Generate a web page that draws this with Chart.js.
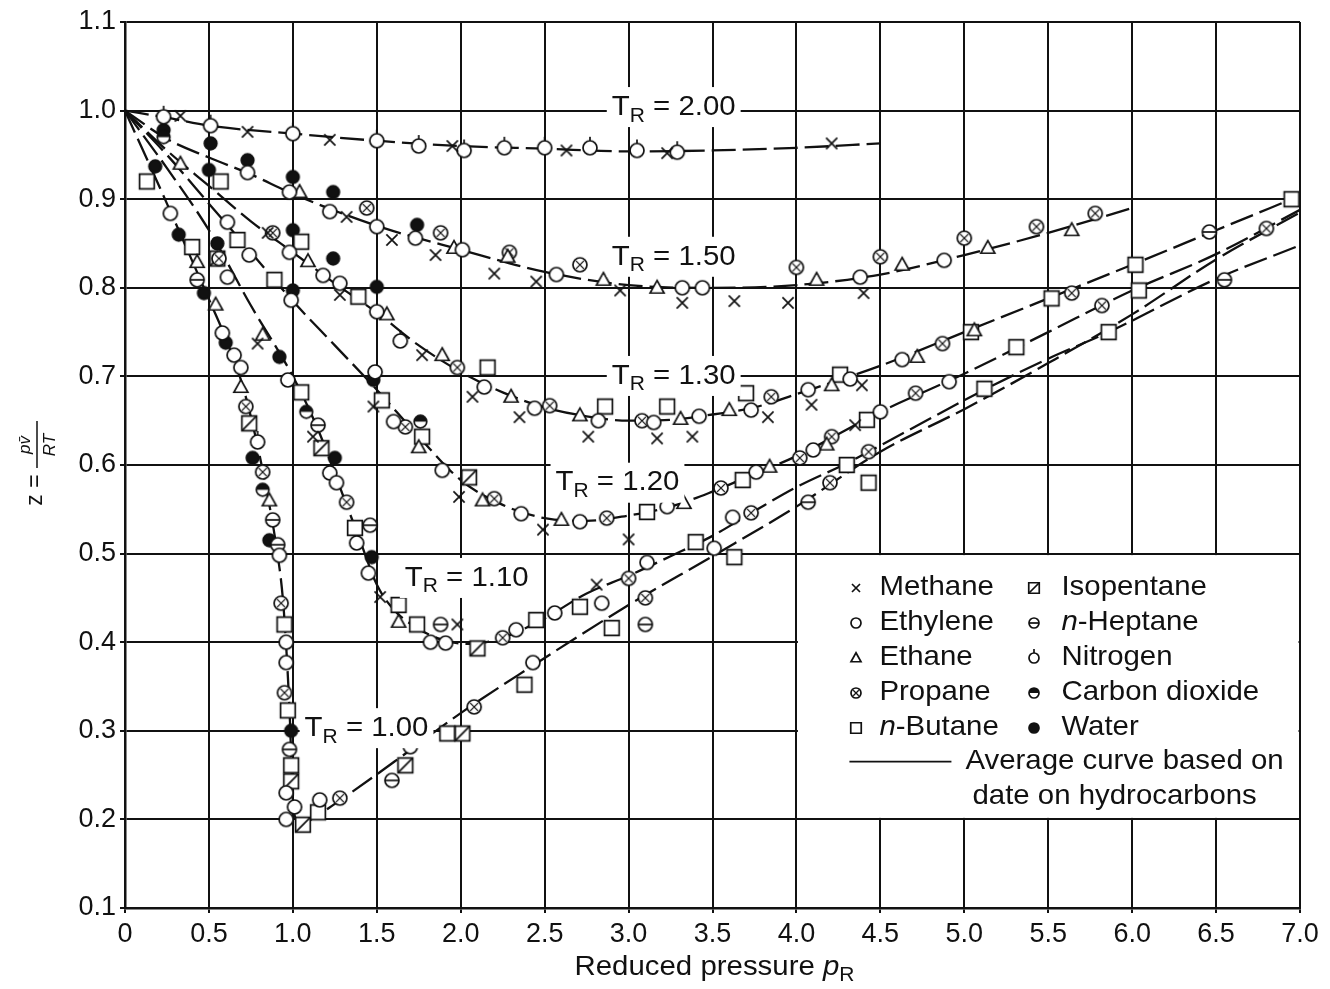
<!DOCTYPE html>
<html lang="en">
<head>
<meta charset="UTF-8">
<title>Generalized compressibility chart</title>
<script src="https://cdn.jsdelivr.net/npm/chart.js@4.4.0/dist/chart.umd.min.js"></script>
<style>
  body { margin: 0; background: #fff; }
  #wrap { width: 1330px; height: 989px; }
</style>
</head>
<body>
<div id="wrap"><canvas id="zChart" width="1330" height="989"></canvas></div>
<script>
// ---- data (x = reduced pressure, y = z) ----
const xTickLabels = ['0','0.5','1.0','1.5','2.0','2.5','3.0','3.5','4.0','4.5','5.0','5.5','6.0','6.5','7.0'];
const yTickLabels = ['0.1','0.2','0.3','0.4','0.5','0.6','0.7','0.8','0.9','1.0','1.1'];

// average curves, one per reduced temperature
const trLabels = ['1.00', '1.10', '1.20', '1.30', '1.50', '2.00'];
const tr100 = [[0,1.0],[0.25,0.895],[0.5,0.787],[0.6,0.743],[0.7,0.69],[0.78,0.63],[0.85,0.565],[0.9,0.51],[0.94,0.45],[0.965,0.38],[0.985,0.3],[0.995,0.24],[1.01,0.205],[1.05,0.195],[1.15,0.205],[1.3,0.224],[1.64,0.27],[2.0,0.32],[2.4,0.37],[3.0,0.442],[3.5,0.497],[4.0,0.553],[4.5,0.615],[5.0,0.663],[5.5,0.715],[6.0,0.77],[6.5,0.832],[7.0,0.885]];
const tr110 = [[0,1.0],[0.25,0.935],[0.5,0.865],[0.75,0.78],[1.0,0.70],[1.15,0.64],[1.3,0.565],[1.4,0.515],[1.5,0.465],[1.6,0.437],[1.75,0.415],[1.9,0.402],[2.05,0.398],[2.25,0.405],[2.5,0.427],[2.75,0.455],[3.0,0.475],[3.25,0.497],[3.5,0.52],[3.75,0.548],[4.0,0.575],[4.3,0.602],[4.5,0.622],[5.12,0.685],[5.5,0.72],[5.86,0.75],[6.5,0.81],[7.0,0.848]];
const tr120 = [[0,1.0],[0.25,0.95],[0.5,0.895],[0.75,0.84],[1.0,0.785],[1.25,0.735],[1.5,0.685],[1.75,0.632],[2.0,0.583],[2.25,0.555],[2.5,0.54],[2.75,0.537],[3.0,0.543],[3.25,0.553],[3.5,0.57],[3.75,0.59],[4.0,0.61],[4.5,0.66],[5.0,0.703],[5.5,0.75],[6.0,0.797],[6.5,0.838],[7.0,0.888]];
const tr130 = [[0,1.0],[0.25,0.955],[0.5,0.915],[0.75,0.875],[1.0,0.84],[1.25,0.805],[1.5,0.772],[1.75,0.735],[2.0,0.705],[2.25,0.682],[2.5,0.665],[2.75,0.655],[3.0,0.65],[3.25,0.651],[3.5,0.657],[3.75,0.665],[4.0,0.68],[4.5,0.712],[5.0,0.75],[5.5,0.788],[6.0,0.826],[6.5,0.865],[6.95,0.9]];
const tr150 = [[0,1.0],[0.25,0.968],[0.5,0.947],[0.75,0.928],[1.0,0.906],[1.5,0.87],[2.0,0.843],[2.5,0.818],[3.0,0.803],[3.5,0.80],[4.0,0.803],[4.5,0.815],[5.0,0.837],[5.5,0.862],[6.0,0.89]];
const tr200 = [[0,1.0],[0.25,0.992],[0.5,0.983],[1.0,0.974],[1.5,0.966],[2.0,0.96],[2.5,0.957],[3.0,0.954],[3.5,0.955],[4.0,0.958],[4.5,0.963]];
const trCurves = [tr100, tr110, tr120, tr130, tr150, tr200];

// measured points per substance
const methane = [[0.33,0.994],[0.73,0.976],[1.22,0.967],[1.95,0.96],[2.63,0.955],[3.23,0.952],[4.21,0.963],
  [1.32,0.88],[1.59,0.854],[1.85,0.837],[2.2,0.816],[2.45,0.807],[2.95,0.797],[3.32,0.783],[3.63,0.785],[3.95,0.783],[4.4,0.794],
  [0.85,0.862],[1.28,0.792],[1.77,0.724],[2.07,0.677],[2.35,0.654],[2.76,0.632],[3.17,0.63],[3.38,0.632],[3.83,0.654],[4.09,0.668],[4.39,0.69],
  [1.48,0.666],[1.99,0.564],[2.49,0.527],[3.0,0.516],[4.35,0.645],
  [0.79,0.737],[1.12,0.632],[1.52,0.451],[1.98,0.42],[2.81,0.465]];
const ethylene = [[0.73,0.93],[0.98,0.908],[1.22,0.886],[1.5,0.869],[1.73,0.856],[2.01,0.843],[2.57,0.815],[3.32,0.8],[3.44,0.8],[4.38,0.812],[4.88,0.831],
  [0.61,0.874],[0.98,0.84],[1.18,0.814],[1.28,0.805],[1.5,0.773],[2.14,0.688],[2.44,0.664],[2.82,0.65],[3.15,0.648],[3.42,0.655],[3.73,0.662],[4.07,0.685],[4.32,0.697],[4.63,0.719],
  [0.74,0.837],[0.99,0.786],[1.49,0.705],[1.6,0.649],[1.89,0.594],[2.36,0.545],[2.71,0.536],[3.23,0.553],[3.76,0.592],[4.1,0.617],[4.5,0.66],[4.91,0.694],
  [0.61,0.812],[0.97,0.696],[1.22,0.591],[1.26,0.58],[1.38,0.512],[1.45,0.478],[1.82,0.4],[1.91,0.399],[2.33,0.414],[2.56,0.433],[2.84,0.444],[3.11,0.49],[3.51,0.506],[3.62,0.541],
  [0.27,0.884],[0.58,0.749],[0.65,0.724],[0.69,0.71],[0.92,0.498],[0.96,0.4],[0.96,0.377],[0.96,0.23],[1.01,0.214],[0.96,0.2],[1.16,0.222],[1.7,0.282],[2.43,0.377]];
const ethane = [[0.33,0.94],[1.04,0.908],[1.96,0.845],[2.28,0.835],[2.85,0.809],[3.17,0.8],[4.12,0.809],[4.63,0.826],[5.14,0.845],[5.64,0.865],
  [1.09,0.83],[1.56,0.77],[1.89,0.724],[2.3,0.677],[2.71,0.656],[3.31,0.652],[3.6,0.662],[4.21,0.69],[4.72,0.722],[5.06,0.752],
  [1.75,0.62],[2.13,0.56],[2.6,0.538],[3.33,0.557],[3.84,0.598],[4.18,0.623],
  [0.82,0.747],[1.63,0.423],
  [0.43,0.829],[0.54,0.781],[0.69,0.688],[0.86,0.56]];
const propane = [[1.44,0.89],[1.88,0.862],[2.29,0.84],[2.71,0.826],[4.0,0.823],[4.5,0.835],[5.0,0.856],[5.43,0.869],[5.78,0.884],
  [0.88,0.862],[1.98,0.71],[2.53,0.667],[3.08,0.65],[3.85,0.677],[4.87,0.737],[5.64,0.794],
  [1.67,0.643],[2.2,0.562],[2.87,0.54],[3.55,0.574],[4.02,0.608],[4.21,0.632],[4.71,0.681],[5.82,0.78],[6.8,0.867],
  [0.56,0.833],[1.32,0.558],[2.25,0.405],[3.0,0.472],[3.73,0.546],[4.43,0.615],
  [0.72,0.666],[0.82,0.592],[0.93,0.444],[0.95,0.343],[1.28,0.224],[2.08,0.327],[3.1,0.45],[4.2,0.58]];
const nButane = [[0.13,0.92],[0.57,0.92],
  [1.05,0.852],[1.39,0.79],[2.16,0.71],[2.86,0.666],[3.23,0.666],[3.7,0.681],[4.26,0.702],[5.04,0.75],[5.52,0.788],[6.02,0.826],[6.95,0.9],
  [0.89,0.809],[1.53,0.673],[1.77,0.632],[3.11,0.547],[3.68,0.583],[4.42,0.651],[5.31,0.733],[6.04,0.797],
  [0.67,0.854],[1.05,0.682],[1.37,0.529],[1.63,0.442],[1.74,0.42],[2.45,0.425],[2.71,0.44],[3.4,0.513],[4.3,0.6],[5.12,0.686],[5.86,0.75],
  [0.4,0.846],[0.95,0.42],[0.97,0.323],[0.99,0.261],[1.15,0.208],[1.92,0.297],[2.38,0.352],[2.9,0.416],[3.63,0.496],[4.43,0.58]];
const isopentane = [[0.55,0.833],[0.74,0.647],[1.17,0.619],[2.05,0.586],[0.99,0.243],[1.06,0.194],[1.67,0.261],[2.01,0.297],[2.1,0.393]];
const nHeptane = [[0.43,0.809],[0.88,0.538],[0.91,0.51],[0.98,0.279],[1.15,0.645],[1.46,0.532],[1.59,0.244],[1.88,0.42],[3.1,0.42],[4.07,0.558],[6.46,0.863],[6.55,0.809]];
const nitrogen = [[0.23,0.993],[0.51,0.983],[1.0,0.974],[1.5,0.966],[1.75,0.96],[2.02,0.955],[2.26,0.958],[2.5,0.958],[2.77,0.958],[3.05,0.955],[3.29,0.953],[1.64,0.74],[0.79,0.626]];
const carbonDioxide = [[0.23,0.97],[0.82,0.572],[1.08,0.66],[1.76,0.649]];
const water = [[0.23,0.978],[0.18,0.937],[0.51,0.963],[0.73,0.944],[1.0,0.925],[1.24,0.908],[1.74,0.871],
  [0.5,0.933],[1.0,0.865],[1.24,0.833],[1.5,0.801],[0.55,0.85],[1.0,0.797],[1.48,0.696],
  [0.92,0.722],[1.25,0.608],[1.47,0.496],[0.32,0.86],[0.47,0.794],[0.6,0.738],[0.76,0.608],[0.86,0.515],[0.99,0.3]];

const substances = ['Methane', 'Ethylene', 'Ethane', 'Propane', 'n-Butane', 'Isopentane', 'n-Heptane', 'Nitrogen', 'Carbon dioxide', 'Water'];
const substanceData = [methane, ethylene, ethane, propane, nButane, isopentane, nHeptane, nitrogen, carbonDioxide, water];
const markerKinds = ['cross', 'circle', 'triangle', 'otimes', 'square', 'squareSlash', 'ominus', 'nitrogen', 'halfFill', 'filled'];

// where the "T_R = ..." tags sit (left edge, vertical centre) in data units
const trLabelAt = [[1.07,0.303],[1.667,0.4725],[2.565,0.58],[2.9,0.7005],[2.9,0.835],[2.9,1.004]];

// ---- drawing ----
const FONT = '"Liberation Sans", Arial, Helvetica, sans-serif';
const INK = '#111';
const STRETCH = 1.05;   // the printed type is a little wider than Liberation Sans

function makeMarker(kind, r) {
  const size = Math.ceil(r * 2 + 12);
  const c = document.createElement('canvas');
  c.width = c.height = size;
  const g = c.getContext('2d');
  const m = size / 2;
  g.strokeStyle = INK;
  g.lineWidth = 1.7;
  const circle = (fill) => {
    g.beginPath(); g.arc(m, m, r, 0, Math.PI * 2);
    g.fillStyle = fill; g.fill(); g.stroke();
  };
  if (kind === 'cross') {
    const s = r * 0.8;
    g.beginPath();
    g.moveTo(m - s, m - s); g.lineTo(m + s, m + s);
    g.moveTo(m + s, m - s); g.lineTo(m - s, m + s);
    g.stroke();
  } else if (kind === 'circle') {
    circle('#fff');
  } else if (kind === 'triangle') {
    g.beginPath();
    g.moveTo(m, m - r * 1.05); g.lineTo(m + r, m + r * 0.75); g.lineTo(m - r, m + r * 0.75);
    g.closePath(); g.fillStyle = '#fff'; g.fill(); g.stroke();
  } else if (kind === 'otimes') {
    circle('#fff');
    const s = r * 0.55;
    g.lineWidth = 1.3;
    g.beginPath();
    g.moveTo(m - s, m - s); g.lineTo(m + s, m + s);
    g.moveTo(m + s, m - s); g.lineTo(m - s, m + s);
    g.stroke();
  } else if (kind === 'square' || kind === 'squareSlash') {
    const h = r * 1.05;
    g.beginPath(); g.rect(m - h, m - h, 2 * h, 2 * h);
    g.fillStyle = '#fff'; g.fill(); g.stroke();
    if (kind === 'squareSlash') {
      g.beginPath(); g.moveTo(m - h, m + h); g.lineTo(m + h, m - h); g.stroke();
    }
  } else if (kind === 'ominus') {
    circle('#fff');
    g.beginPath(); g.moveTo(m - r, m); g.lineTo(m + r, m); g.stroke();
  } else if (kind === 'nitrogen') {
    circle('#fff');
    g.beginPath(); g.moveTo(m, m - r); g.lineTo(m, m - r - 4); g.stroke();
  } else if (kind === 'halfFill') {
    circle('#fff');
    g.beginPath(); g.arc(m, m, r, Math.PI, Math.PI * 2); g.closePath();
    g.fillStyle = INK; g.fill();
  } else if (kind === 'filled') {
    circle(INK);
  }
  return c;
}

// draw text slightly widened, return the advance
function wideText(ctx, text, x, y, font) {
  ctx.font = font;
  const w = ctx.measureText(text).width * STRETCH;
  ctx.save();
  ctx.translate(x, y);
  ctx.scale(STRETCH, 1);
  ctx.fillText(text, 0, 0);
  ctx.restore();
  return w;
}
function textWidth(ctx, text, font) {
  ctx.font = font;
  return ctx.measureText(text).width * STRETCH;
}

function drawTR(ctx, x, y, val) {
  const big = '28px ' + FONT, small = '20px ' + FONT;
  const rest = ' = ' + val;
  const w = textWidth(ctx, 'T', big) + textWidth(ctx, 'R', small) + textWidth(ctx, rest, big);
  ctx.save();
  ctx.textBaseline = 'middle';
  ctx.textAlign = 'left';
  ctx.fillStyle = '#fff';
  ctx.fillRect(x - 5, y - 20, w + 10, 40);
  ctx.fillStyle = INK;
  let cx = x;
  cx += wideText(ctx, 'T', cx, y, big);
  cx += wideText(ctx, 'R', cx, y + 9, small);
  wideText(ctx, rest, cx, y, big);
  ctx.restore();
}

// text with a leading italic "n" for n-Butane / n-Heptane
function drawName(ctx, name, x, y) {
  if (name.startsWith('n-')) {
    const w = wideText(ctx, 'n', x, y, 'italic 28px ' + FONT);
    wideText(ctx, name.slice(1), x + w, y, '28px ' + FONT);
  } else {
    wideText(ctx, name, x, y, '28px ' + FONT);
  }
}

const decor = {
  id: 'decor',
  beforeDatasetsDraw(chart) {
    // blank panel that holds the key
    const { ctx, scales: { x, y } } = chart;
    const l = x.getPixelForValue(4), r = x.getPixelForValue(7);
    const t = y.getPixelForValue(0.5), b = y.getPixelForValue(0.2);
    ctx.save();
    ctx.fillStyle = '#fff';
    ctx.fillRect(l + 1.5, t + 1.5, r - l - 3, b - t - 3);
    ctx.restore();
  },
  afterDatasetsDraw(chart) {
    const { ctx, scales: { x, y } } = chart;
    trLabels.forEach((lab, i) => {
      drawTR(ctx, x.getPixelForValue(trLabelAt[i][0]), y.getPixelForValue(trLabelAt[i][1]), lab);
    });
  },
  afterDraw(chart) {
    const { ctx, scales: { x, y } } = chart;
    const l = x.getPixelForValue(4), t = y.getPixelForValue(0.5);
    ctx.save();
    ctx.fillStyle = INK;
    ctx.textBaseline = 'middle';
    ctx.textAlign = 'left';
    substances.forEach((name, i) => {
      const col = Math.floor(i / 5), row = i % 5;
      const mx = l + (col ? 238 : 60), ty = t + 34 + row * 35;
      const img = makeMarker(markerKinds[i], 5);
      ctx.drawImage(img, Math.round(mx - img.width / 2), Math.round(ty - img.height / 2));
      drawName(ctx, name, l + (col ? 265 : 83), ty);
    });
    ctx.strokeStyle = INK;
    ctx.lineWidth = 1.6;
    ctx.beginPath();
    ctx.moveTo(l + 53, t + 208); ctx.lineTo(l + 155, t + 208);
    ctx.stroke();
    wideText(ctx, 'Average curve based on', l + 169, t + 208, '28px ' + FONT);
    wideText(ctx, 'date on hydrocarbons', l + 176, t + 243, '28px ' + FONT);

    // x axis title
    const cx = (x.left + x.right) / 2 + 2;
    const s1 = 'Reduced pressure ';
    const w1 = textWidth(ctx, s1, '28px ' + FONT);
    const w2 = textWidth(ctx, 'p', 'italic 28px ' + FONT);
    const w3 = textWidth(ctx, 'R', '20px ' + FONT);
    const sx = cx - (w1 + w2 + w3) / 2;
    const ty = 967;
    wideText(ctx, s1, sx, ty, '28px ' + FONT);
    wideText(ctx, 'p', sx + w1, ty, 'italic 28px ' + FONT);
    wideText(ctx, 'R', sx + w1 + w2, ty + 8, '20px ' + FONT);

    // y axis title: z = p v / RT, rotated
    ctx.translate(37, 470);
    ctx.rotate(-Math.PI / 2);
    ctx.textAlign = 'center';
    ctx.font = '23px ' + FONT;
    ctx.fillText('z =', -20, -1);
    ctx.beginPath();
    ctx.moveTo(2, 0); ctx.lineTo(49, 0);
    ctx.lineWidth = 1.5;
    ctx.stroke();
    ctx.font = 'italic 17px ' + FONT;
    ctx.fillText('pv\u0304', 25, -12);
    ctx.fillText('RT', 25, 13);
    ctx.restore();
  }
};

const markerSets = substances.map((name, i) => ({
  label: name,
  data: substanceData[i].map(([px, pz]) => ({ x: px, y: pz })),
  pointStyle: makeMarker(markerKinds[i], markerKinds[i] === 'filled' || markerKinds[i] === 'halfFill' ? 6.3 : 7),
  pointRadius: 7,
  showLine: false,
  order: 0
}));

const curveSets = trCurves.map((pts, i) => ({
  label: 'TR ' + trLabels[i],
  data: pts.map(([px, pz]) => ({ x: px, y: pz })),
  showLine: true,
  borderColor: INK,
  borderWidth: 2.3,
  borderDash: [24, 7],
  pointRadius: 0,
  cubicInterpolationMode: 'monotone',
  fill: false,
  order: 1
}));

new Chart(document.getElementById('zChart'), {
  type: 'scatter',
  data: { datasets: [...markerSets, ...curveSets] },
  options: {
    responsive: false,
    devicePixelRatio: 1,
    animation: false,
    layout: { padding: { left: 0, top: 22, right: 30, bottom: 0 } },
    plugins: { legend: { display: false }, tooltip: { enabled: false } },
    scales: {
      x: {
        type: 'linear', min: 0, max: 7,
        afterFit(s) { s.height = 81; },
        grid: { color: INK, lineWidth: 2, tickLength: 5 },
        border: { color: INK, width: 2.5 },
        ticks: {
          stepSize: 0.5, autoSkip: false, maxRotation: 0, padding: 5, color: INK,
          font: { family: FONT, size: 27 },
          callback: v => xTickLabels[Math.round(v / 0.5)]
        }
      },
      y: {
        type: 'linear', min: 0.1, max: 1.1,
        afterFit(s) { s.width = 125; },
        grid: { color: INK, lineWidth: 2, tickLength: 5 },
        border: { color: INK, width: 2.5 },
        ticks: {
          stepSize: 0.1, autoSkip: false, padding: 4, color: INK,
          font: { family: FONT, size: 27 },
          callback: v => yTickLabels[Math.round((v - 0.1) / 0.1)]
        }
      }
    }
  },
  plugins: [decor]
});
</script>
</body>
</html>
